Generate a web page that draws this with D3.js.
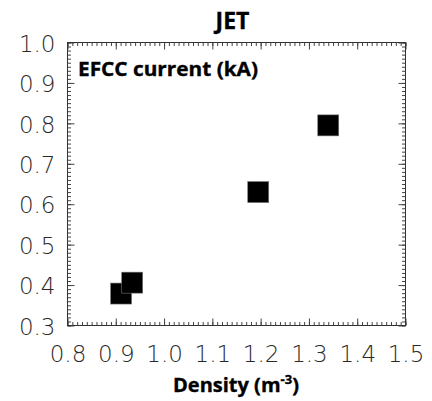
<!DOCTYPE html>
<html>
<head>
<meta charset="utf-8">
<script src="https://cdn.jsdelivr.net/npm/d3@7"></script>
<style>
  html, body { margin: 0; padding: 0; background: #fff; }
  svg { display: block; }
  .tick text { font-family: "DejaVu Sans", sans-serif; font-weight: 200; fill: #2a2a2a; font-size: 23px; }
  .domain { display: none; }
  .tick line { stroke: #444; stroke-width: 1; }
  .bold { font-family: 'Open Sans', sans-serif; font-weight: 700; fill: #000; stroke: #000; stroke-width: 0.35; }
</style>
</head>
<body>
<svg id="chart" width="432" height="401"></svg>
<script>
const densities = [1.340, 1.195, 0.911, 0.934];
const currents  = [0.795, 0.630, 0.379, 0.406];
const xTickValues = [0.8, 0.9, 1.0, 1.1, 1.2, 1.3, 1.4, 1.5];
const yTickValues = [0.3, 0.4, 0.5, 0.6, 0.7, 0.8, 0.9, 1.0];
const titleText = "JET";
const yLabelText = "EFCC current (kA)";

const svg = d3.select("#chart");
const m = { left: 67.5, top: 42.5, right: 405.5, bottom: 325.5 };
const W = m.right - m.left, H = m.bottom - m.top;
const g = svg.append("g").attr("transform", `translate(${m.left},${m.top})`);

const x = d3.scaleLinear().domain([0.8, 1.5]).range([0, W]);
const y = d3.scaleLinear().domain([0.3, 1.0]).range([H, 0]);

const xMinor = d3.range(80, 151).map(v => v / 100);
const yMinor = d3.range(30, 101).map(v => v / 100);
const fmt = d3.format(".1f");

// minor ticks on all sides
g.append("g").attr("transform", `translate(0,${H})`).call(d3.axisBottom(x).tickValues(xMinor).tickSize(-3.5).tickFormat(""));
g.append("g").call(d3.axisTop(x).tickValues(xMinor).tickSize(-3.5).tickFormat(""));
g.append("g").call(d3.axisLeft(y).tickValues(yMinor).tickSize(-3.5).tickFormat(""));
g.append("g").attr("transform", `translate(${W},0)`).call(d3.axisRight(y).tickValues(yMinor).tickSize(-3.5).tickFormat(""));

// major ticks
g.append("g").attr("transform", `translate(0,${H})`)
  .call(d3.axisBottom(x).tickValues(xTickValues).tickSize(-7).tickPadding(20).tickFormat(fmt));
g.append("g").call(d3.axisTop(x).tickValues(xTickValues).tickSize(-7).tickFormat(""));
const yl = g.append("g")
  .call(d3.axisLeft(y).tickValues(yTickValues).tickSize(-7).tickPadding(12).tickFormat(fmt));
g.append("g").attr("transform", `translate(${W},0)`).call(d3.axisRight(y).tickValues(yTickValues).tickSize(-7).tickFormat(""));
yl.selectAll("text").attr("dy", "0.38em");

// frame
g.append("rect").attr("x", 0).attr("y", 0).attr("width", W).attr("height", H)
  .attr("fill", "none").attr("stroke", "#333").attr("stroke-width", 1);

// markers
const s = 21;
g.selectAll("rect.pt").data(densities).enter().append("rect").attr("class", "pt")
  .attr("x", (d) => x(d) - s / 2)
  .attr("y", (d, i) => y(currents[i]) - s / 2)
  .attr("width", s).attr("height", s)
  .attr("fill", "#000").attr("stroke", "#777").attr("stroke-width", 0.6);

// title
svg.append("text").attr("class", "bold").attr("x", 232.5).attr("y", 28.5).attr("text-anchor", "middle")
  .attr("font-size", 23).text(titleText);

// in-plot label
svg.append("text").attr("class", "bold").attr("x", 78).attr("y", 75.5)
  .attr("font-size", 19)
  .attr("textLength", 180).attr("lengthAdjust", "spacingAndGlyphs")
  .text(yLabelText);

// x-axis label
const xt = svg.append("text").attr("class", "bold").attr("x", 236).attr("y", 391.5).attr("text-anchor", "middle")
  .attr("font-size", 20);
xt.append("tspan").text("Density (m");
xt.append("tspan").attr("font-size", 13).attr("dy", -8).text("-3");
xt.append("tspan").attr("dy", 8).text(")");
</script>
</body>
</html>
